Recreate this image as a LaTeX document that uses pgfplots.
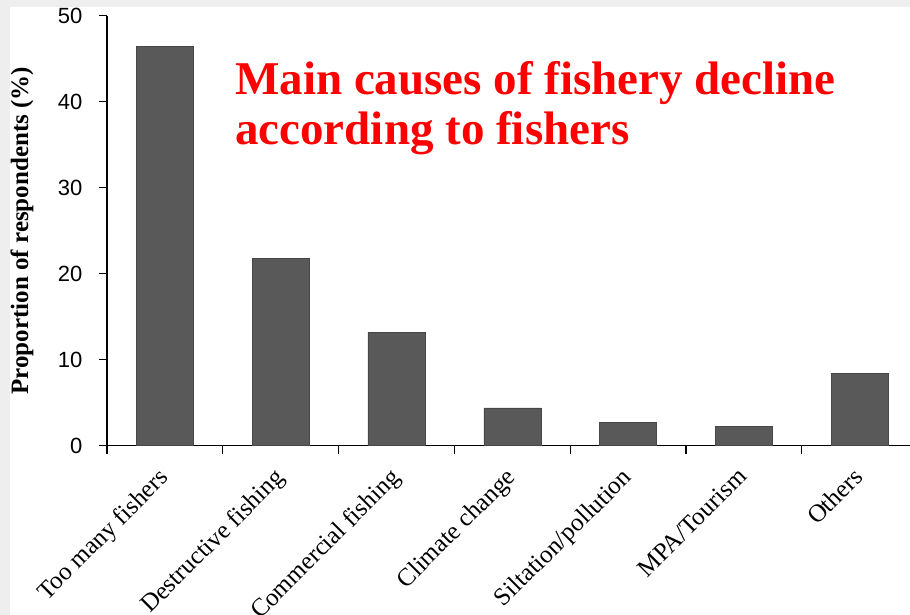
\documentclass[border=0pt]{standalone}
\usepackage{pgfplots}
\pgfplotsset{compat=1.18}
\usepackage{fontspec}
\setmainfont{Liberation Serif}
\newfontfamily\tickfont{Liberation Sans}
\definecolor{barfill}{HTML}{595959}
\definecolor{baredge}{HTML}{474747}
\definecolor{framegray}{HTML}{EEEEEE}

\begin{document}
\begin{tikzpicture}
\path[use as bounding box] (-107pt,-169.3pt) rectangle (803pt,445.7pt);
\clip (-107pt,-169.3pt) rectangle (803pt,445.7pt);
% light frame along the top and left edges
\fill[framegray] (-107pt,439pt) rectangle (803pt,445.7pt);
\fill[framegray] (-107pt,-169.3pt) rectangle (-97pt,445.7pt);
\begin{axis}[
  at={(0pt,0pt)}, anchor=south west,
  scale only axis, width=810.6pt, height=430pt,
  xmin=-0.5, xmax=6.5, ymin=0, ymax=50,
  axis x line*=bottom, axis y line*=left,
  axis line style={line width=1.2pt, black},
  ybar, bar width=57pt,
  tick align=outside, major tick length=8pt,
  tick style={line width=1.2pt, black},
  ytick={0,10,...,50},
  /pgf/number format/assume math mode=true,
  y tick label style={font=\tickfont\fontsize{22}{26}\selectfont, xshift=-13pt},
  xtick={0,...,6},
  xticklabels={Too many fishers, Destructive fishing, Commercial fishing, Climate change, Siltation/pollution, MPA/Tourism, Others},
  x tick label style={rotate=45, xshift=-11pt, anchor=north east, font=\fontsize{25}{29}\selectfont},
  major x tick style={draw=none},
  extra x ticks={-0.5,0.5,...,6.5},
  extra x tick labels={},
  extra x tick style={major x tick style={draw=black, line width=1.2pt}},
  ylabel={\bfseries Proportion of respondents (\%)},
  ylabel style={at={(axis description cs:-0.105,0.5)}, anchor=center, font=\fontsize{25}{29}\selectfont},
]
\addplot[fill=barfill, draw=baredge, line width=0.6pt] coordinates {
  (0,46.4) (1,21.8) (2,13.2) (3,4.4) (4,2.7) (5,2.2) (6,8.4)
};
\end{axis}
\node[anchor=base west, text=red, font=\bfseries\fontsize{47}{51}\selectfont, inner sep=0pt] at (128pt,350.7pt) {Main causes of fishery decline};
\node[anchor=base west, text=red, font=\bfseries\fontsize{47}{51}\selectfont, inner sep=0pt] at (128pt,300.7pt) {according to fishers};
\end{tikzpicture}
\end{document}
